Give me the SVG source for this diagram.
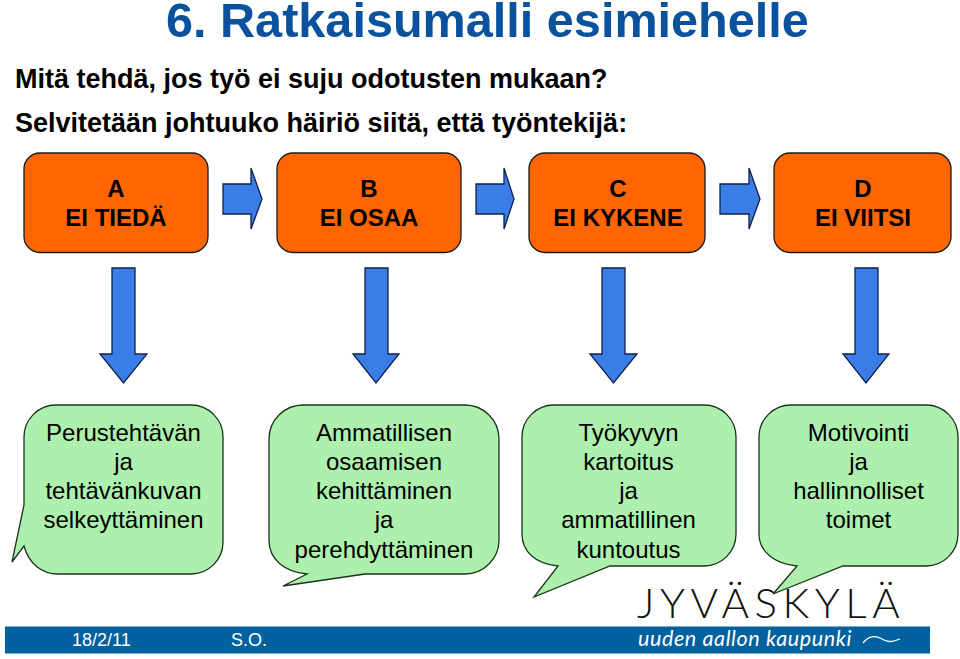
<svg xmlns="http://www.w3.org/2000/svg" width="960" height="659" viewBox="0 0 960 659">
<style>
text{font-family:"Liberation Sans",Arial,sans-serif;fill:#000}
.c{text-anchor:middle}
.box{fill:#ff6600;stroke:#1a1a1a;stroke-width:1.3}
.bub{fill:#adf0ad;stroke:#1a331a;stroke-width:1.3}
.arr{fill:#3b7de6;stroke:#10204a;stroke-width:1.3}
.bt{font-size:24px;font-weight:bold}
.gt{font-size:24px}
.ft{font-size:18px;fill:#fff}
.hd{font-size:27px;font-weight:bold}
</style>
<rect width="960" height="659" fill="#fff"/>
<text id="title" x="166" y="37" style="font-size:48.6px;font-weight:bold;fill:#0a529e">6. Ratkaisumalli esimiehelle</text>
<text class="hd" x="15" y="88">Mitä tehdä, jos työ ei suju odotusten mukaan?</text>
<text class="hd" x="15" y="132">Selvitetään johtuuko häiriö siitä, että työntekijä:</text>

<g id="connectors">
<path class="arr" d="M223 184H251V168L262 199L251 229V214H223Z"/>
<path class="arr" d="M476 184H504V168L514 199L504 229V214H476Z"/>
<path class="arr" d="M720 184H749V168L760 199L749 229V214H720Z"/>
<path class="arr" d="M112 268H135V354H147L123.500 383L100 354H112Z"/>
<path class="arr" d="M365 268H388V354H399L376 383L353 354H365Z"/>
<path class="arr" d="M602 268H625V354H637L613.500 383L590 354H602Z"/>
<path class="arr" d="M855 268H878V354H889L866 383L843 354H855Z"/>
</g>

<g id="node-a"><rect class="box" x="24" y="153" width="184" height="99.500" rx="16"/>
<text class="bt c" x="116" y="197">A</text><text class="bt c" x="116" y="226">EI TIEDÄ</text></g>
<g id="node-b"><rect class="box" x="277" y="153" width="184" height="99.500" rx="16"/>
<text class="bt c" x="369" y="197">B</text><text class="bt c" x="369" y="226">EI OSAA</text></g>
<g id="node-c"><rect class="box" x="529" y="153" width="176" height="99.500" rx="16"/>
<text class="bt c" x="618" y="197">C</text><text class="bt c" x="618" y="226">EI KYKENE</text></g>
<g id="node-d"><rect class="box" x="774" y="153" width="177" height="99.500" rx="16"/>
<text class="bt c" x="863" y="197">D</text><text class="bt c" x="863" y="226">EI VIITSI</text></g>

<g id="footer">
<rect x="5" y="626.500" width="925" height="27" fill="#00619f"/>
<text class="ft" x="72" y="646">18/2/11</text>
<text class="ft" x="231" y="646">S.O.</text>
<text x="638" y="646" style="font-family:'Lato','Open Sans',sans-serif;font-size:21.500px;fill:#fff;letter-spacing:.6px;font-style:italic">uuden aallon kaupunki</text>
<path d="M863 643C870 634 877 636 884 640C890 643 895 641 900 639" fill="none" stroke="#fff" stroke-width="1.300"/>
</g>

<g id="bubble-1"><path class="bub" d="M56 405H191A32 32 0 0 1 223 437V542A32 32 0 0 1 191 574H58C42 574 29 564 24 546L12 562L24 505V437A32 32 0 0 1 56 405Z"/>
<text class="gt c" x="123.500" y="441">Perustehtävän</text><text class="gt c" x="123.500" y="470">ja</text><text class="gt c" x="123.500" y="499">tehtävänkuvan</text><text class="gt c" x="123.500" y="528">selkeyttäminen</text></g>
<g id="bubble-2"><path class="bub" d="M303 405H465A34 34 0 0 1 499 439V540A34 34 0 0 1 465 574H365L283 586L307 574C285 572 269 560 269 540V439A34 34 0 0 1 303 405Z"/>
<text class="gt c" x="384" y="441">Ammatillisen</text><text class="gt c" x="384" y="470">osaamisen</text><text class="gt c" x="384" y="499">kehittäminen</text><text class="gt c" x="384" y="528">ja</text><text class="gt c" x="384" y="558">perehdyttäminen</text></g>
<g id="bubble-3"><path class="bub" d="M554 405H704A32 32 0 0 1 736 437V534A32 32 0 0 1 704 566H610L534 597L558 566C536 564 522 552 522 534V437A32 32 0 0 1 554 405Z"/>
<text class="gt c" x="628.500" y="441">Työkyvyn</text><text class="gt c" x="628.500" y="470">kartoitus</text><text class="gt c" x="628.500" y="499">ja</text><text class="gt c" x="628.500" y="528">ammatillinen</text><text class="gt c" x="628.500" y="558">kuntoutus</text></g>
<g id="bubble-4"><path class="bub" d="M791 405H926A32 32 0 0 1 958 437V534A32 32 0 0 1 926 566H843L773 594L797 566C775 564 759 552 759 534V437A32 32 0 0 1 791 405Z"/>
<text class="gt c" x="858.500" y="441">Motivointi</text><text class="gt c" x="858.500" y="470">ja</text><text class="gt c" x="858.500" y="499">hallinnolliset</text><text class="gt c" x="858.500" y="528">toimet</text></g>

<text id="logo" x="637" y="618" style="font-family:'Lato','Open Sans',sans-serif;font-weight:300;font-size:42px;letter-spacing:5.550px;fill:#111">JYVÄSKYLÄ</text>
</svg>
